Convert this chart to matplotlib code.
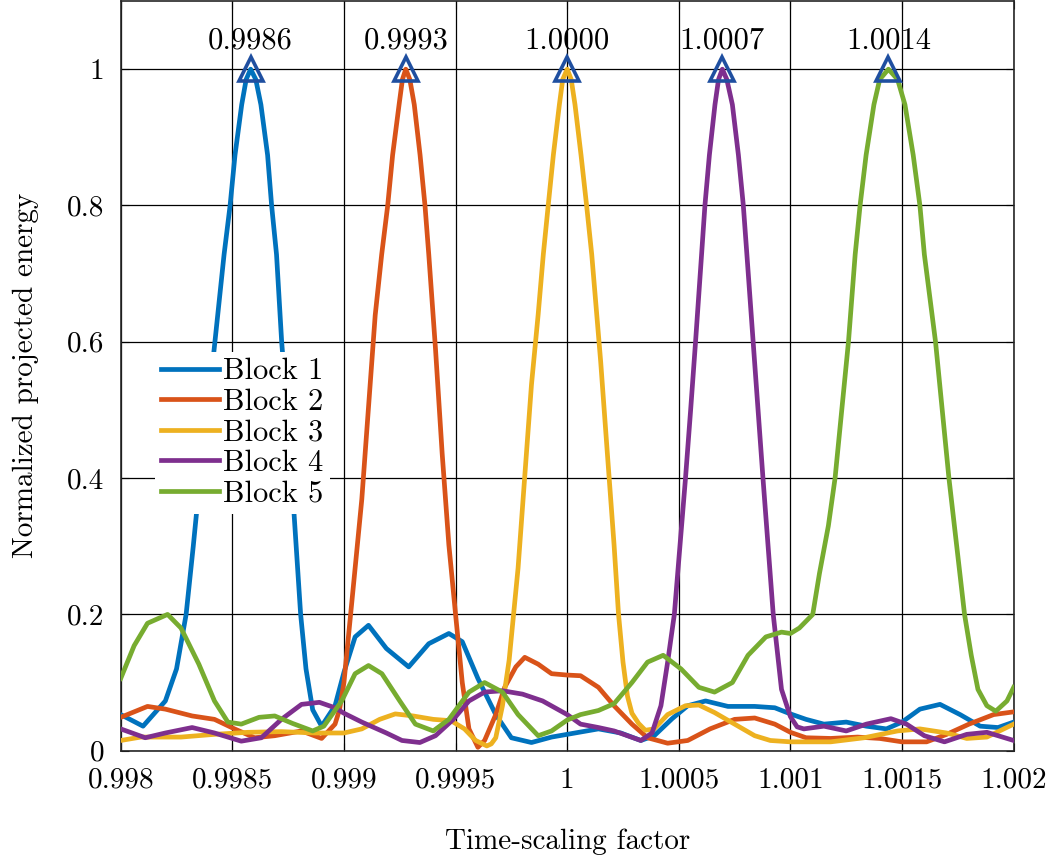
import numpy as np
import matplotlib
matplotlib.use('Agg')
import matplotlib.pyplot as plt

plt.rcParams['font.family'] = ['cmr10', 'DejaVu Serif']
plt.rcParams['mathtext.fontset'] = 'cm'
plt.rcParams['axes.formatter.use_mathtext'] = True

# Block 1
x1 = [0.998, 0.99810, 0.99820, 0.99825, 0.998293, 0.998325, 0.998355, 0.99839, 0.998422, 0.998463,
      0.99849, 0.998512, 0.998542, 0.998562, 0.998582, 0.998605, 0.998628, 0.998658, 0.998676, 0.998698,
      0.998721, 0.998745, 0.998766, 0.998786, 0.998806, 0.99883, 0.99886, 0.99890, 0.99896, 0.999,
      0.99905, 0.99911, 0.99919, 0.99929, 0.99938, 0.99947, 0.99953, 0.99960, 0.99968, 0.99975,
      0.99984, 0.99993, 1.0, 1.00014, 1.00024, 1.00033, 1.00039, 1.00047, 1.00054, 1.00062,
      1.00072, 1.00084, 1.00093, 1.001, 1.00107, 1.00115, 1.00125, 1.00134, 1.00143, 1.0015,
      1.00158, 1.00167, 1.00176, 1.00185, 1.00193, 1.002]
y1 = [0.053, 0.036, 0.073, 0.12, 0.2, 0.3, 0.4, 0.5, 0.6, 0.728,
      0.8, 0.874, 0.948, 0.985, 1.0, 0.985, 0.948, 0.874, 0.8, 0.728,
      0.6, 0.5, 0.4, 0.3, 0.2, 0.12, 0.06, 0.036, 0.066, 0.115,
      0.167, 0.184, 0.150, 0.123, 0.157, 0.172, 0.160, 0.106, 0.053, 0.019,
      0.012, 0.020, 0.024, 0.032, 0.026, 0.015, 0.022, 0.047, 0.066, 0.073,
      0.065, 0.065, 0.063, 0.054, 0.046, 0.039, 0.042, 0.036, 0.032, 0.042,
      0.061, 0.068, 0.053, 0.036, 0.034, 0.042]

# Block 2
x2 = [0.998, 0.99812, 0.9982, 0.99832, 0.99842, 0.99851, 0.9986, 0.99869, 0.99881, 0.9989,
      0.99896, 0.99898, 0.999, 0.99904, 0.99908, 0.99911, 0.99914, 0.999169, 0.999196, 0.999218,
      0.999247, 0.999262, 0.999277, 0.999295, 0.999315, 0.999341, 0.999363, 0.99938, 0.99941, 0.99944,
      0.99947, 0.9995, 0.99953, 0.99956, 0.9996, 0.99963, 0.99968, 0.99972, 0.99977, 0.99981,
      0.99987, 0.99993, 1.0, 1.00006, 1.00014, 1.00021, 1.00029, 1.00036, 1.00045, 1.00054,
      1.00064, 1.00075, 1.00084, 1.00093, 1.001, 1.00107, 1.00118, 1.0013, 1.0014, 1.0015,
      1.00161, 1.0017, 1.0018, 1.00191, 1.002]
y2 = [0.049, 0.065, 0.061, 0.051, 0.046, 0.032, 0.019, 0.022, 0.029, 0.018,
      0.039, 0.06, 0.1, 0.234, 0.369, 0.504, 0.639, 0.728, 0.8, 0.874,
      0.948, 0.985, 1.0, 0.985, 0.948, 0.874, 0.8, 0.728, 0.59, 0.436,
      0.302, 0.2, 0.1, 0.032, 0.005, 0.015, 0.053, 0.093, 0.123, 0.137,
      0.127, 0.113, 0.111, 0.11, 0.093, 0.066, 0.039, 0.019, 0.011, 0.015,
      0.032, 0.046, 0.048, 0.039, 0.027, 0.019, 0.018, 0.02, 0.018, 0.013,
      0.013, 0.024, 0.039, 0.053, 0.057]

# Block 3
x3 = [0.998, 0.99809, 0.99827, 0.99842, 0.99857, 0.99872, 0.99887, 0.999, 0.99908, 0.99916,
      0.99923, 0.99931, 0.9994, 0.99948, 0.99954, 0.99959, 0.99964, 0.99966, 0.99968, 0.99971,
      0.99974, 0.99978, 0.99981, 0.99984, 0.99987, 0.999893, 0.999915, 0.999938, 0.999965, 0.99998,
      1.0, 1.000018, 1.000035, 1.000062, 1.000087, 1.00011, 1.00015, 1.00018, 1.00021, 1.00023,
      1.00025, 1.00027, 1.00029, 1.00032, 1.00035, 1.00039, 1.00045, 1.00053, 1.00059, 1.00066,
      1.00075, 1.00084, 1.00091, 1.001, 1.00118, 1.00133, 1.00148, 1.00158, 1.0017, 1.00179,
      1.00188, 1.002]
y3 = [0.015, 0.02, 0.02, 0.024, 0.027, 0.028, 0.026, 0.026, 0.032, 0.046,
      0.054, 0.051, 0.046, 0.044, 0.032, 0.015, 0.007, 0.01, 0.019, 0.066,
      0.133, 0.268, 0.403, 0.537, 0.64, 0.728, 0.8, 0.874, 0.948, 0.985,
      1.0, 0.985, 0.948, 0.874, 0.8, 0.728, 0.571, 0.436, 0.302, 0.2,
      0.13, 0.08, 0.055, 0.04, 0.03, 0.032, 0.053, 0.066, 0.067, 0.056,
      0.039, 0.022, 0.015, 0.013, 0.013, 0.019, 0.029, 0.032, 0.026, 0.018,
      0.02, 0.039]

# Block 4
x4 = [0.998, 0.99811, 0.9982, 0.99832, 0.99842, 0.99854, 0.99863, 0.99872, 0.99881, 0.99889,
      0.99896, 0.999, 0.99908, 0.99919, 0.99926, 0.99934, 0.99941, 0.99949, 0.99956, 0.99963,
      0.99971, 0.9998, 0.99989, 1.0, 1.00006, 1.00014, 1.00021, 1.00027, 1.00033, 1.00038,
      1.00042, 1.00045, 1.00048, 1.000505, 1.00053, 1.000553, 1.000575, 1.000602, 1.000617, 1.000637,
      1.000662, 1.000678, 1.000695, 1.000715, 1.00074, 1.000767, 1.000789, 1.000805, 1.000833, 1.000855,
      1.000877, 1.0009, 1.000923, 1.00096, 1.001, 1.00103, 1.00106, 1.00115, 1.00125, 1.00134,
      1.00145, 1.00152, 1.0016, 1.00169, 1.00179, 1.00188, 1.002]
y4 = [0.032, 0.019, 0.026, 0.034, 0.026, 0.014, 0.019, 0.046, 0.068, 0.071,
      0.063, 0.055, 0.042, 0.026, 0.015, 0.012, 0.022, 0.046, 0.073, 0.086,
      0.088, 0.083, 0.073, 0.053, 0.039, 0.034, 0.029, 0.022, 0.015, 0.026,
      0.066, 0.13, 0.2, 0.3, 0.4, 0.5, 0.6, 0.728, 0.8, 0.874,
      0.948, 0.985, 1.0, 0.985, 0.948, 0.874, 0.8, 0.728, 0.6, 0.5,
      0.4, 0.3, 0.2, 0.09, 0.05, 0.035, 0.032, 0.036, 0.029, 0.039,
      0.047, 0.039, 0.022, 0.013, 0.024, 0.027, 0.015]

# Block 5
x5 = [0.998, 0.99806, 0.99812, 0.99821, 0.99827, 0.99835, 0.99842, 0.99848, 0.99854, 0.99862,
      0.99869, 0.99877, 0.99886, 0.99891, 0.99899, 0.99905, 0.99911, 0.99917, 0.99925, 0.99932,
      0.9994, 0.99947, 0.99956, 0.99963, 0.99971, 0.99978, 0.99987, 0.99993, 1.0, 1.00006,
      1.00014, 1.00021, 1.00029, 1.00036, 1.00043, 1.00051, 1.00059, 1.00066, 1.00074, 1.00081,
      1.00089, 1.00096, 1.001, 1.00104, 1.0011, 1.00113, 1.00117, 1.0012, 1.00123, 1.00126,
      1.00129, 1.001312, 1.001339, 1.001374, 1.0014, 1.001439, 1.00148, 1.001513, 1.00155, 1.00158,
      1.0016, 1.00165, 1.00168, 1.00171, 1.001745, 1.00178, 1.00181, 1.00184, 1.00188, 1.00192,
      1.00197, 1.002]
y5 = [0.106, 0.154, 0.187, 0.2, 0.18, 0.127, 0.073, 0.042, 0.039, 0.049,
      0.051, 0.04, 0.029, 0.036, 0.073, 0.113, 0.125, 0.113, 0.073, 0.039,
      0.029, 0.046, 0.086, 0.1, 0.086, 0.053, 0.022, 0.029, 0.045, 0.053,
      0.059, 0.069, 0.1, 0.13, 0.14, 0.12, 0.093, 0.086, 0.1, 0.14,
      0.167, 0.174, 0.172, 0.18, 0.2, 0.26, 0.33, 0.4, 0.5, 0.6,
      0.728, 0.8, 0.874, 0.948, 0.985, 1.0, 0.985, 0.948, 0.874, 0.8,
      0.728, 0.6, 0.5, 0.4, 0.3, 0.2, 0.14, 0.09, 0.066, 0.058,
      0.073, 0.093]

series = [(x1, y1), (x2, y2), (x3, y3), (x4, y4), (x5, y5)]
names = ['Block 1', 'Block 2', 'Block 3', 'Block 4', 'Block 5']
colors = ['#0072BD', '#D95319', '#EDB120', '#7E2F8E', '#77AC30']

xticks = [0.998, 0.9985, 0.999, 0.9995, 1.0, 1.0005, 1.001, 1.0015, 1.002]
xticklabels = ['0.998', '0.9985', '0.999', '0.9995', '1', '1.0005', '1.001', '1.0015', '1.002']
yticks = [0, 0.2, 0.4, 0.6, 0.8, 1.0]
yticklabels = ['0', '0.2', '0.4', '0.6', '0.8', '1']

fig = plt.figure(figsize=(10.57, 8.61), dpi=100)
ax = fig.add_axes([0.1142, 0.1281, 0.8448, 0.8707])

for (xs, ys), name, c in zip(series, names, colors):
    ax.plot(xs, ys, color=c, lw=3.4, label=name, zorder=3, solid_joinstyle='round')

# peak markers + labels
for xs, ys in series:
    i = int(np.argmax(ys))
    ax.plot(xs[i], ys[i], marker='^', ms=17, mfc='none', mec='#1F4FA0', mew=2.6,
            zorder=4, clip_on=False)
    ax.text(xs[i], ys[i] + 0.03, f'{xs[i]:.4f}', ha='center', va='baseline', fontsize=22)

ax.set_xlim(0.998, 1.002)
ax.set_ylim(0, 1.1)
ax.set_xticks(xticks)
ax.set_xticklabels(xticklabels)
ax.set_yticks(yticks)
ax.set_yticklabels(yticklabels)
ax.tick_params(direction='in', top=True, right=True, length=6, labelsize=21, pad=12)
ax.grid(True, color='black', lw=0.9)
ax.set_axisbelow(True)
for s in ax.spines.values():
    s.set_color('#262626')
    s.set_linewidth(1.2)

ax.set_xlabel('Time-scaling factor', fontsize=21, labelpad=25)
ax.set_ylabel('Normalized projected energy', fontsize=21, labelpad=20)

leg = ax.legend(loc='upper left', bbox_to_anchor=(0.038, 0.532), borderaxespad=0,
                fontsize=22, handlelength=1.9, handletextpad=0.15, labelspacing=0.1,
                borderpad=0.2, frameon=True, fancybox=False)
leg.get_frame().set_edgecolor('none')
leg.get_frame().set_alpha(1)

fig.savefig('out.png', dpi=100)
